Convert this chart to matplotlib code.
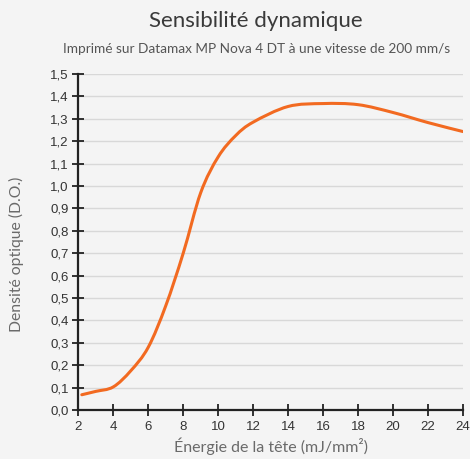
import matplotlib
matplotlib.use("Agg")
import matplotlib.pyplot as plt
from matplotlib.ticker import MultipleLocator, FuncFormatter
from matplotlib.path import Path
from matplotlib.patches import PathPatch

# Data
energy = [2.2, 3, 4, 5, 6, 7, 8, 9, 10, 11, 12, 14, 16, 18, 20, 22, 24]
density = [0.068, 0.083, 0.103, 0.175, 0.28, 0.465, 0.70, 0.97, 1.13, 1.225,
           1.285, 1.355, 1.368, 1.363, 1.328, 1.283, 1.243]
x_ticks = list(range(2, 25, 2))
title = "Sensibilité dynamique"
subtitle = "Imprimé sur Datamax MP Nova 4 DT à une vitesse de 200 mm/s"
xlabel = "Énergie de la tête (mJ/mm²)"
ylabel = "Densité optique (D.O.)"

bg = "#f4f4f4"
fig = plt.figure(figsize=(4.7, 4.59), dpi=100, facecolor=bg)
ax = fig.add_axes([0.1666, 0.1068, 0.8185, 0.732], facecolor=bg)


def smooth_path(xs, ys):
    """Smoothed line (Catmull-Rom as cubic Bezier segments), like a spreadsheet smooth line."""
    pts = list(zip(xs, ys))
    verts = [pts[0]]
    codes = [Path.MOVETO]
    n = len(pts)
    for i in range(n - 1):
        p0 = pts[i - 1] if i > 0 else pts[i]
        p1 = pts[i]
        p2 = pts[i + 1]
        p3 = pts[i + 2] if i + 2 < n else pts[i + 1]
        c1 = (p1[0] + (p2[0] - p0[0]) / 6, p1[1] + (p2[1] - p0[1]) / 6)
        c2 = (p2[0] - (p3[0] - p1[0]) / 6, p2[1] - (p3[1] - p1[1]) / 6)
        verts += [c1, c2, p2]
        codes += [Path.CURVE4] * 3
    return Path(verts, codes)


ax.add_patch(PathPatch(smooth_path(energy, density), facecolor="none",
                       edgecolor="#f26a21", lw=2.2, capstyle="round",
                       joinstyle="round", zorder=3))

ax.set_xlim(2, 24)
ax.set_ylim(0, 1.5)
ax.set_xticks(x_ticks)
ax.yaxis.set_major_locator(MultipleLocator(0.1))
ax.yaxis.set_major_formatter(FuncFormatter(lambda v, p: f"{v:.1f}".replace(".", ",")))
ax.grid(axis="y", color="#d8d8d8", lw=1.0, zorder=0)
ax.set_axisbelow(True)

for s in ["top", "right"]:
    ax.spines[s].set_visible(False)
for s in ["left", "bottom"]:
    ax.spines[s].set_color("#222222")
    ax.spines[s].set_linewidth(1.6)

ax.tick_params(axis="both", direction="inout", length=8, width=1.3,
               color="#222222", labelsize=9.5, labelcolor="#333333",
               labelfontfamily="Liberation Sans")
ax.tick_params(axis="x", pad=4)
ax.tick_params(axis="y", pad=3)

ax.set_xlabel(xlabel, labelpad=3, family="Lato", color="#6a6a6a", size=11.5)
ax.set_ylabel(ylabel, family="Lato", color="#6a6a6a", size=11.3)
ax.yaxis.set_label_coords(-0.141, 0.464)

fig.text(0.545, 0.955, title, ha="center", va="center", family="Lato",
         size=16, color="#3a3a3a")
fig.text(0.545, 0.893, subtitle, ha="center", va="center", family="Lato",
         size=9.8, color="#555555")

fig.savefig("out.png", dpi=100, facecolor=bg)
